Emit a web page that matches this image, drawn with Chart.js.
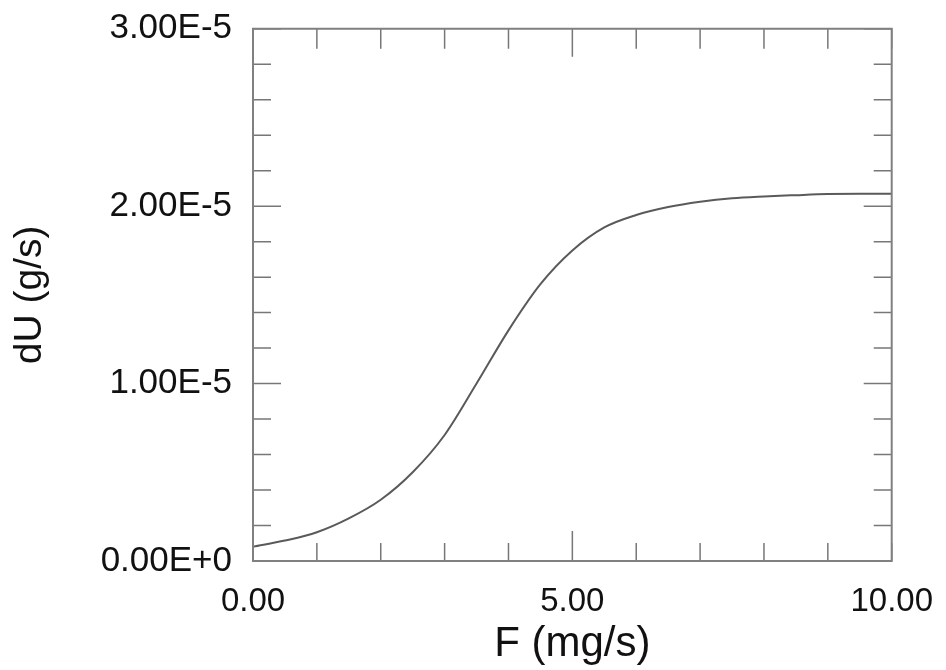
<!DOCTYPE html>
<html lang="en">
<head>
    <meta charset="UTF-8">
    <script src="https://cdn.jsdelivr.net/npm/chart.js"></script>
    <title>dU vs F</title>
    <style>
        body { margin: 0; background: #fff; }
        #wrap { width: 946px; height: 670px; position: relative; }
    </style>
</head>
<body>
<div id="wrap">
    <canvas id="myChart"></canvas>
</div>
<script>
// values
var flow = [0, 0.5, 1, 1.5, 2, 2.5, 3, 3.5, 4, 4.5, 5, 5.5, 6, 6.5, 7, 7.5, 8, 8.5, 9, 9.5, 10];
var dU = [0.80e-6, 1.15e-6, 1.62e-6, 2.40e-6, 3.45e-6, 5.00e-6, 7.10e-6, 10.0e-6, 13.0e-6, 15.6e-6,
          17.5e-6, 18.8e-6, 19.5e-6, 19.95e-6, 20.25e-6, 20.45e-6, 20.55e-6, 20.62e-6, 20.68e-6, 20.70e-6, 20.70e-6];
var xLabeled = [0, 5, 10];
var yMajor = 1e-5;

var points = [];
for (var i = 0; i < flow.length; i++) {
    points.push({ x: flow[i], y: dU[i] });
}

var font = "'Liberation Sans', Arial, sans-serif";

function isMajorY(v) {
    var r = v / yMajor;
    return Math.abs(r - Math.round(r)) < 1e-6;
}

// frame and inward tick marks on all four sides
var frameTicks = {
    id: 'frameTicks',
    afterDraw: function (chart) {
        var ctx = chart.ctx;
        var a = chart.chartArea;
        var xs = chart.scales.x;
        var ys = chart.scales.y;
        ctx.save();
        ctx.strokeStyle = '#777';
        ctx.lineWidth = 1.5;
        ctx.beginPath();
        xs.ticks.forEach(function (t) {
            var px = xs.getPixelForValue(t.value);
            var big = t.value === 5;
            ctx.moveTo(px, a.bottom);
            ctx.lineTo(px, a.bottom - (big ? 30 : 18));
            ctx.moveTo(px, a.top);
            ctx.lineTo(px, a.top + (big ? 28 : 20));
        });
        ys.ticks.forEach(function (t) {
            var py = ys.getPixelForValue(t.value);
            var len = isMajorY(t.value) ? 28 : 18;
            ctx.moveTo(a.left, py);
            ctx.lineTo(a.left + len, py);
            ctx.moveTo(a.right, py);
            ctx.lineTo(a.right - len, py);
        });
        ctx.stroke();
        ctx.strokeStyle = '#808080';
        ctx.lineWidth = 2;
        ctx.strokeRect(a.left, a.top, a.right - a.left, a.bottom - a.top);
        ctx.restore();
    }
};

var ctx = document.getElementById('myChart').getContext('2d');
var myChart = new Chart(ctx, {
    type: 'line',
    data: {
        datasets: [{
            data: points,
            borderColor: '#5a5a5a',
            borderWidth: 2,
            pointRadius: 0,
            fill: false,
            cubicInterpolationMode: 'monotone'
        }]
    },
    options: {
        responsive: true,
        maintainAspectRatio: false,
        animation: false,
        layout: { padding: { left: 0, right: 48, top: 10, bottom: 0 } },
        plugins: {
            legend: { display: false },
            tooltip: { enabled: false }
        },
        scales: {
            x: {
                type: 'linear',
                min: 0,
                max: 10,
                grid: { display: false },
                border: { display: false },
                ticks: {
                    stepSize: 1,
                    autoSkip: false,
                    maxRotation: 0,
                    padding: 13,
                    color: '#111',
                    font: { family: font, size: 33 },
                    callback: function (v) {
                        return xLabeled.indexOf(v) >= 0 ? v.toFixed(2) : '';
                    }
                },
                title: {
                    display: true,
                    text: 'F (mg/s)',
                    color: '#111',
                    font: { family: font, size: 42 },
                    padding: { top: 0, bottom: 0 }
                },
                afterFit: function (scale) { scale.height = 109; }
            },
            y: {
                min: 0,
                max: 3e-5,
                grid: { display: false },
                border: { display: false },
                ticks: {
                    stepSize: 2e-6,
                    autoSkip: false,
                    padding: 13,
                    color: '#111',
                    font: { family: font, size: 35, lineHeight: 0.9 },
                    callback: function (v) {
                        if (!isMajorY(v)) return '';
                        var n = Math.round(v / yMajor);
                        return n === 0 ? '0.00E+0' : n.toFixed(2) + 'E-5';
                    }
                },
                title: {
                    display: true,
                    text: 'dU (g/s)',
                    color: '#111',
                    font: { family: font, size: 39 },
                    padding: { top: 7, bottom: 0 }
                },
                afterFit: function (scale) { scale.width = 253; }
            }
        }
    },
    plugins: [frameTicks]
});
</script>
</body>
</html>
